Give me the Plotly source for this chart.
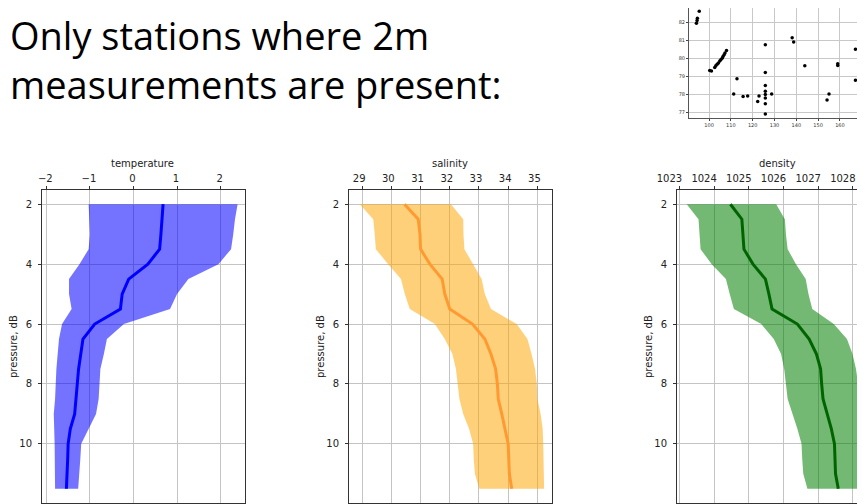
import plotly.graph_objects as go

pressure = [2.0, 2.5, 3.0, 3.5, 4.0, 4.5, 5.0, 5.5, 6.0, 6.5, 7.0, 7.5, 8.0, 8.5, 9.0, 9.5, 10.0, 10.5, 11.0, 11.5]

temp_mean = [0.68, 0.66, 0.63, 0.60, 0.33, -0.11, -0.26, -0.30, -0.89, -1.16, -1.21, -1.26, -1.29, -1.32, -1.35, -1.45, -1.50, -1.51, -1.52, -1.54]
temp_upper = [2.39, 2.33, 2.29, 2.24, 1.95, 1.26, 1.00, 0.84, -0.22, -0.61, -0.68, -0.76, -0.78, -0.80, -0.86, -1.03, -1.20, -1.22, -1.24, -1.27]
temp_lower = [-1.03, -1.01, -1.00, -1.03, -1.24, -1.48, -1.48, -1.42, -1.64, -1.71, -1.74, -1.77, -1.79, -1.80, -1.83, -1.82, -1.81, -1.81, -1.80, -1.80]

sal_mean = [30.45, 30.92, 30.98, 31.00, 31.32, 31.74, 31.83, 32.00, 32.78, 33.20, 33.41, 33.57, 33.63, 33.66, 33.78, 33.89, 34.00, 34.02, 34.04, 34.12]
sal_upper = [32.04, 32.46, 32.47, 32.50, 32.80, 33.09, 33.20, 33.41, 34.29, 34.66, 34.80, 34.92, 34.98, 35.00, 35.11, 35.18, 35.20, 35.21, 35.22, 35.23]
sal_lower = [28.92, 29.38, 29.43, 29.47, 29.89, 30.33, 30.46, 30.63, 31.49, 31.83, 32.09, 32.21, 32.26, 32.33, 32.46, 32.66, 32.80, 32.82, 32.86, 33.01]

dens_mean = [1024.47, 1024.80, 1024.83, 1024.86, 1025.12, 1025.48, 1025.58, 1025.67, 1026.40, 1026.74, 1026.95, 1027.07, 1027.10, 1027.14, 1027.26, 1027.38, 1027.47, 1027.48, 1027.50, 1027.58]
dens_upper = [1025.79, 1026.04, 1026.07, 1026.12, 1026.36, 1026.64, 1026.72, 1026.83, 1027.45, 1027.83, 1027.99, 1028.09, 1028.15, 1028.21, 1028.30, 1028.40, 1028.45, 1028.47, 1028.49, 1028.50]
dens_lower = [1023.21, 1023.55, 1023.58, 1023.61, 1023.93, 1024.34, 1024.45, 1024.57, 1025.36, 1025.72, 1025.93, 1026.02, 1026.07, 1026.12, 1026.26, 1026.40, 1026.52, 1026.54, 1026.57, 1026.69]

station_lon = [95.5, 94.65, 94.5, 94.2, 100.3, 101.1, 102.6, 103.1, 103.7, 104.3, 104.9, 105.4, 106.0, 106.4, 106.9, 107.3, 108.0,
               112.8, 111.3, 115.6, 117.7, 122.3, 122.9, 125.8, 125.8, 125.8, 125.8, 125.8, 125.8, 125.8, 125.8, 128.7,
               138.1, 138.8, 143.9, 154.1, 155.0, 159.0, 159.0, 167.1, 167.1]
station_lat = [82.6, 82.22, 82.09, 81.94, 79.33, 79.30, 79.5, 79.59, 79.67, 79.74, 79.85, 79.92, 80.01, 80.1, 80.2, 80.29, 80.44,
               78.87, 78.03, 77.9, 77.92, 77.62, 77.92, 80.75, 79.22, 78.5, 78.18, 78.0, 77.81, 77.5, 76.93, 78.03,
               81.14, 80.9, 79.59, 77.7, 78.03, 79.70, 79.61, 80.51, 78.8]

title_lines = ["Only stations where 2m", "measurements are present:"]

# page body has an 8px default margin; map reference pixels onto the figure
OFF = 8
W, H = 865 - OFF, 504 - OFF


def px_x(v):
    return max(0.0, min(1.0, (v - OFF) / W))


def px_y(v):
    return max(0.0, min(1.0, 1 - (v - OFF) / H))


fig = go.Figure()

panels = [
    ("temperature", temp_mean, temp_upper, temp_lower, "rgba(0,0,255,0.55)", "#0000ff",
     [-2.1, 2.56], [-2, -1, 0, 1, 2], (42, 245), 142, -1),
    ("salinity", sal_mean, sal_upper, sal_lower, "rgba(255,165,0,0.52)", "#ff9a33",
     [28.55, 35.5], [29, 30, 31, 32, 33, 34, 35], (349, 552), 450, -3),
    ("density", dens_mean, dens_upper, dens_lower, "rgba(0,128,0,0.55)", "#006400",
     [1022.93, 1028.35], [1023, 1024, 1025, 1026, 1027, 1028], (677, 865), 777, -10),
]

axis_font = dict(family="DejaVu Sans", size=10, color="#222")
ydom = [px_y(503), px_y(190)]

for i, (name, mean, up, lo, fillc, linec, xr, xt, (x0, x1), tcx, shift) in enumerate(panels, start=1):
    xa = "x" if i == 1 else f"x{i}"
    ya = "y" if i == 1 else f"y{i}"
    fig.add_trace(go.Scatter(
        x=list(up) + list(lo)[::-1], y=pressure + pressure[::-1],
        fill="toself", fillcolor=fillc, line=dict(width=0), mode="lines",
        xaxis=xa, yaxis=ya, hoverinfo="skip", showlegend=False))
    fig.add_trace(go.Scatter(
        x=mean, y=pressure, mode="lines", line=dict(color=linec, width=3),
        xaxis=xa, yaxis=ya, showlegend=False))
    xkey = "xaxis" if i == 1 else f"xaxis{i}"
    ykey = "yaxis" if i == 1 else f"yaxis{i}"
    fig.layout[xkey] = dict(
        domain=[px_x(x0), px_x(x1)], anchor=ya, side="top", automargin=False,
        range=xr, tickvals=xt, showgrid=True, gridcolor="#c4c4c4", gridwidth=1,
        showline=True, linecolor="#333", linewidth=1, mirror=True,
        ticks="outside", ticklen=3, tickcolor="#333", tickfont=axis_font,
        ticklabelshift=shift, zeroline=False, fixedrange=True)
    fig.layout[ykey] = dict(
        domain=ydom, anchor=xa, range=[11.975, 1.525], tickvals=[2, 4, 6, 8, 10],
        automargin=False, showgrid=True, gridcolor="#c4c4c4", gridwidth=1,
        showline=True, linecolor="#333", linewidth=1, mirror=True,
        ticks="outside", ticklen=3, tickcolor="#333", tickfont=axis_font,
        ticklabelstandoff=4, zeroline=False, fixedrange=True)
    fig.add_annotation(text=name, xref="paper", yref="paper", x=px_x(tcx), y=px_y(164),
                       showarrow=False, font=axis_font, xanchor="center", yanchor="middle")
    fig.add_annotation(text="pressure, dB", xref="paper", yref="paper",
                       x=px_x(x0 - 29), y=px_y(347), textangle=-90, showarrow=False,
                       font=axis_font, xanchor="center", yanchor="middle")

# inset station map
fig.add_trace(go.Scatter(x=station_lon, y=station_lat, mode="markers",
                         marker=dict(color="black", size=3.5),
                         xaxis="x4", yaxis="y4", showlegend=False))
small_font = dict(family="DejaVu Sans", size=5, color="#333")
fig.layout["xaxis4"] = dict(domain=[px_x(689), 1.0], anchor="y4", range=[90.8, 171.5],
                            tickvals=[100, 110, 120, 130, 140, 150, 160, 170], automargin=False,
                            showgrid=True, gridcolor="#c8c8c8", showline=True, linecolor="#555",
                            mirror=True, ticks="outside", ticklen=2, tickfont=small_font,
                            zeroline=False, fixedrange=True)
fig.layout["yaxis4"] = dict(domain=[px_y(118), px_y(8)], anchor="x4", range=[76.71, 82.78],
                            tickvals=[77, 78, 79, 80, 81, 82], automargin=False,
                            showgrid=True, gridcolor="#c8c8c8", showline=True, linecolor="#555",
                            mirror=True, ticks="outside", ticklen=2, tickfont=small_font,
                            zeroline=False, fixedrange=True)

title_font = dict(family="Open Sans", size=38, color="black")
fig.add_annotation(text="<br>".join(title_lines), xref="paper", yref="paper",
                   x=px_x(9), y=1.0, align="left", borderpad=0,
                   xanchor="left", yanchor="top", showarrow=False, font=title_font)

fig.update_layout(width=W, height=H, margin=dict(l=0, r=0, t=0, b=0, autoexpand=False),
                  paper_bgcolor="white", plot_bgcolor="white")

fig.write_html("out.html", config={"displayModeBar": False})
